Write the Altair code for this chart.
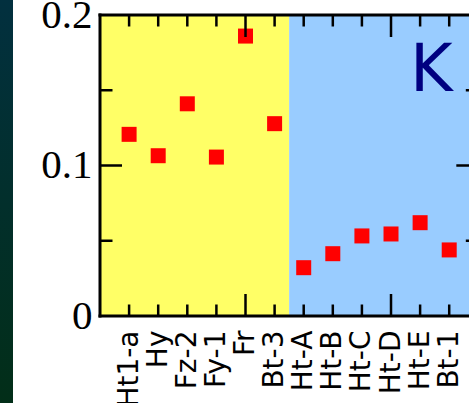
import json
import altair as alt
import pandas as pd

# ---- data ----
samples = ["Ht1-a", "Hy", "Fz-2", "Fy-1", "Fr", "Bt-3",
           "Ht-A", "Ht-B", "Ht-C", "Ht-D", "Ht-E", "Bt-1"]
values = [0.1207, 0.1065, 0.141, 0.1056, 0.186, 0.1278,
          0.0321, 0.0414, 0.0532, 0.0545, 0.062, 0.0439]
positions = list(range(1, len(samples) + 1))

region_start = [0, 6.5]
region_end = [6.5, 13]
region_color = ["#FFFF66", "#99CCFF"]

y_label_values = [0, 0.1, 0.2]
y_major = [0.1]
y_minor = [0.05, 0.15]
x_major = [5, 10]
x_minor = [p for p in positions if p not in x_major]
panel_letter = "K"

# ---- layout ----
W, H = 369, 301
X_MAX = 12.68
xscale = alt.Scale(domain=[0, X_MAX], nice=False, zero=False)
yscale = alt.Scale(domain=[0, 0.2], nice=False, zero=True)

pts = pd.DataFrame({"pos": positions, "val": values, "name": samples})
regions = pd.DataFrame({"start": region_start, "end": region_end, "color": region_color,
                        "lo": [0.0, 0.0], "hi": [0.2, 0.2]})
one = alt.Data(values=[{}])

label_expr = json.dumps(samples).replace('"', "'") + "[datum.value - 1]"

x_axis = alt.Axis(values=positions, labelExpr=label_expr, labelAngle=270,
                  labelAlign="right", labelBaseline="middle", labelPadding=14,
                  labelFont="DejaVu Sans", labelFontSize=28, labelColor="black",
                  labelOverlap=False, labelFlush=False, labelBound=False,
                  ticks=False, domain=False, grid=False, title=None)
y_axis = alt.Axis(values=y_label_values, format="~g", labelFont="Liberation Serif",
                  labelFontSize=41, labelColor="black", labelPadding=8,
                  labelBaseline="middle", ticks=False, domain=False, grid=False,
                  title=None, labelOverlap=False, labelFlush=False)


def X(field):
    return alt.X(field, scale=xscale, axis=x_axis)


def Y(field):
    return alt.Y(field, scale=yscale, axis=y_axis)


bg = alt.Chart(regions).mark_rect().encode(
    x=X("start:Q"), x2="end:Q",
    y=Y("lo:Q"), y2="hi:Q",
    color=alt.Color("color:N", scale=None),
)

points = alt.Chart(pts).mark_square(size=225, color="#FF0000", opacity=1).encode(
    x=X("pos:Q"), y=Y("val:Q"),
)

tick_style = dict(color="black", strokeWidth=2.5)


def ydf(v):
    return pd.DataFrame({"v": v, "edge": [13] * len(v)})


def xdf(v):
    return pd.DataFrame({"p": v})


left_major = alt.Chart(ydf(y_major)).mark_rule(**tick_style).encode(
    y=Y("v:Q"), x=alt.value(0), x2=alt.value(22))
left_minor = alt.Chart(ydf(y_minor)).mark_rule(**tick_style).encode(
    y=Y("v:Q"), x=alt.value(0), x2=alt.value(12.5))
right_major = alt.Chart(ydf(y_major)).mark_rule(x2Offset=-22, **tick_style).encode(
    y=Y("v:Q"), x=X("edge:Q"), x2="edge:Q")
right_minor = alt.Chart(ydf(y_minor)).mark_rule(x2Offset=-12.5, **tick_style).encode(
    y=Y("v:Q"), x=X("edge:Q"), x2="edge:Q")

top_minor = alt.Chart(xdf(x_minor)).mark_rule(**tick_style).encode(
    x=X("p:Q"), y=alt.value(0), y2=alt.value(11.5))
top_major = alt.Chart(xdf(x_major)).mark_rule(**tick_style).encode(
    x=X("p:Q"), y=alt.value(0), y2=alt.value(22))
bot_minor = alt.Chart(xdf(x_minor)).mark_rule(**tick_style).encode(
    x=X("p:Q"), y=alt.value(H), y2=alt.value(H - 11.5))
bot_major = alt.Chart(xdf(x_major)).mark_rule(**tick_style).encode(
    x=X("p:Q"), y=alt.value(H), y2=alt.value(H - 22))

frame_style = dict(color="black", strokeWidth=3, strokeCap="square")
frame_top = alt.Chart(one).mark_rule(**frame_style).encode(
    x=alt.value(0), x2=alt.value(W + 20), y=alt.value(0))
frame_bottom = alt.Chart(one).mark_rule(**frame_style).encode(
    x=alt.value(0), x2=alt.value(W + 20), y=alt.value(H))
frame_left = alt.Chart(one).mark_rule(**frame_style).encode(
    x=alt.value(0), y=alt.value(0), y2=alt.value(H))

letter = alt.Chart(one).mark_text(
    text=panel_letter, font="DejaVu Sans", fontSize=65, color="#000080",
    align="left", baseline="alphabetic").encode(x=alt.value(310), y=alt.value(76))

strip = alt.Chart(one).mark_rect(
    color=alt.Gradient(gradient="linear",
                       stops=[alt.GradientStop(color="#02303f", offset=0),
                              alt.GradientStop(color="#022e18", offset=1)],
                       x1=0, x2=0, y1=0, y2=1)
).encode(x=alt.value(-100), x2=alt.value(-87), y=alt.value(-15), y2=alt.value(388))

chart = alt.layer(
    bg, strip, points,
    left_major, left_minor, right_major, right_minor,
    top_minor, top_major, bot_minor, bot_major,
    frame_top, frame_bottom, frame_left, letter,
).properties(
    width=W, height=H,
    autosize=alt.AutoSizeParams(type="none"),
    padding={"left": 100, "top": 15, "right": 0, "bottom": 87},
    background="white",
).configure_view(stroke=None)

chart.save("out.html", embed_options={"renderer": "svg", "actions": False})
